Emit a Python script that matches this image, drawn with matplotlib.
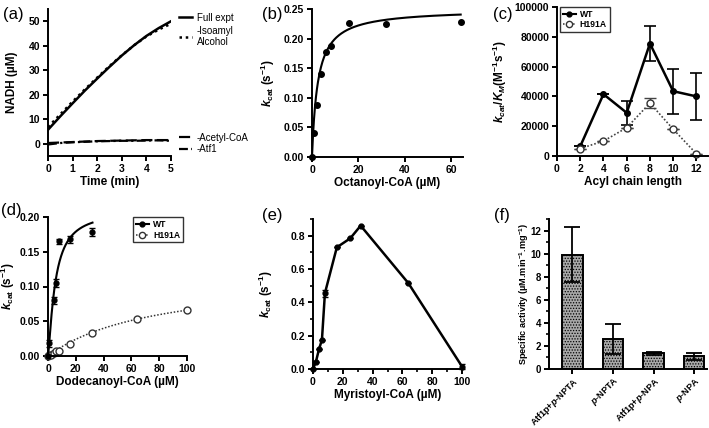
import numpy as np
import matplotlib
matplotlib.use("Agg")
import matplotlib.pyplot as plt
from matplotlib.ticker import MultipleLocator, FormatStrFormatter
from matplotlib.lines import Line2D

plt.rcParams['font.family'] = ['Liberation Sans', 'DejaVu Sans']
plt.rcParams['font.weight'] = 'bold'
plt.rcParams['axes.labelweight'] = 'bold'
plt.rcParams['mathtext.fontset'] = 'custom'
plt.rcParams['mathtext.rm'] = 'Liberation Sans:bold'
plt.rcParams['mathtext.bf'] = 'Liberation Sans:bold'
plt.rcParams['mathtext.it'] = 'Liberation Sans:italic:bold'
plt.rcParams['axes.linewidth'] = 1.4
plt.rcParams['xtick.major.width'] = 1.4
plt.rcParams['ytick.major.width'] = 1.4
plt.rcParams['xtick.minor.width'] = 1.2
plt.rcParams['ytick.minor.width'] = 1.2
plt.rcParams['xtick.major.size'] = 3.5
plt.rcParams['ytick.major.size'] = 3.5
plt.rcParams['xtick.minor.size'] = 2
plt.rcParams['ytick.minor.size'] = 2
plt.rcParams['xtick.labelsize'] = 7.5
plt.rcParams['ytick.labelsize'] = 7.5
plt.rcParams['axes.labelsize'] = 8.5
plt.rcParams['xtick.major.pad'] = 2
plt.rcParams['ytick.major.pad'] = 2
plt.rcParams['hatch.color'] = '#6e6e6e'
plt.rcParams['hatch.linewidth'] = 0.6

# ---------------- data ----------------
# (a) NADH time courses
time_min = [0, 0.5, 1, 1.5, 2, 2.5, 3, 3.5, 4, 4.5, 5]
nadh_full = [5.7, 11.2, 16.5, 21.7, 26.6, 31.4, 36.0, 40.2, 44.0, 47.2, 50.0]
nadh_no_isoamyl = [6.8, 12.0, 17.2, 22.2, 27.0, 31.7, 36.1, 40.2, 43.8, 46.6, 49.0]
nadh_no_acetylcoa = [0.3, 0.5, 0.7, 0.9, 1.1, 1.2, 1.3, 1.4, 1.5, 1.5, 1.5]
nadh_no_atf1 = [-0.3, 0.3, 0.6, 0.8, 1.0, 1.1, 1.2, 1.2, 1.3, 1.4, 1.2]

# (b) octanoyl-CoA
octanoyl_conc = [0, 1, 2, 4, 6, 8, 16, 32, 64]
octanoyl_kcat = [0.0, 0.04, 0.088, 0.14, 0.178, 0.188, 0.226, 0.225, 0.228]
octanoyl_vmax = 0.25
octanoyl_km = 2.5

# (c) kcat/KM vs acyl chain length
chain_length = [2, 4, 6, 8, 10, 12]
wt_kcat_km = [6500, 41500, 29000, 75500, 43500, 40000]
wt_kcat_km_err = [0, 0, 8000, 12000, 15000, 16000]
h191a_kcat_km = [5000, 10000, 19000, 35500, 18000, 1500]
h191a_kcat_km_err = [0, 0, 0, 3500, 0, 0]

# (d) dodecanoyl-CoA
dodec_wt_conc = [0, 1, 4, 6, 8, 16, 32]
dodec_wt_kcat = [0.0, 0.018, 0.080, 0.105, 0.165, 0.168, 0.178]
dodec_wt_err = [0.0, 0.005, 0.005, 0.006, 0.004, 0.005, 0.006]
dodec_wt_vmax, dodec_wt_k, dodec_wt_n = 0.21, 5.2, 1.3
dodec_mut_conc = [0, 1, 2, 4, 6, 8, 16, 32, 64, 100]
dodec_mut_kcat = [0.0, 0.001, 0.002, 0.004, 0.007, 0.007, 0.017, 0.033, 0.053, 0.066]
dodec_mut_vmax, dodec_mut_km = 0.117, 77.3

# (e) myristoyl-CoA
myr_conc = [0, 2, 4, 6, 8, 16, 25, 32, 64, 100]
myr_kcat = [0.0, 0.045, 0.118, 0.175, 0.455, 0.73, 0.784, 0.86, 0.515, 0.015]
myr_err = [0, 0, 0, 0, 0.02, 0, 0, 0, 0, 0.015]

# (f) specific activity
f_labels = ['Atf1p+$p$-NPTA', '$p$-NPTA', 'Atf1p+$p$-NPA', '$p$-NPA']
f_values = [9.9, 2.6, 1.35, 1.1]
f_errors = [2.38, 1.27, 0.12, 0.3]

# ---------------- layout ----------------
W, H = 709, 428
fig = plt.figure(figsize=(W / 100, H / 100), dpi=100)

def add_ax(l, r, top, bot):
    ax = fig.add_axes([l / W, 1 - bot / H, (r - l) / W, (bot - top) / H])
    for s in ['top', 'right']:
        ax.spines[s].set_visible(False)
    return ax

def ylab_at(ax, center_px, l, r, half=7):
    ax.yaxis.set_label_coords((center_px + half - l) / (r - l), 0.5)

kcat_label = r'$k_{\rm cat}$ (s$^{-1}$)'

# (a)
axa = add_ax(48, 171, 9, 156)
l1, = axa.plot(time_min, nadh_full, color='black', lw=1.8)
l2, = axa.plot(time_min, nadh_no_isoamyl, color='black', lw=1.8, ls=(0, (1, 1.5)))
l3, = axa.plot(time_min, nadh_no_acetylcoa, color='black', lw=1.6, ls=(0, (5, 2)))
l4, = axa.plot(time_min, nadh_no_atf1, color='black', lw=1.6, ls=(0, (4, 1.5, 1, 1.5)))
axa.set_xlim(0, 5)
axa.set_ylim(-5, 55)
axa.set_xticks([0, 1, 2, 3, 4, 5])
axa.set_yticks([0, 10, 20, 30, 40, 50])
axa.set_xlabel('Time (min)', labelpad=2)
axa.set_ylabel('NADH (µM)')
ylab_at(axa, 12, 48, 171, half=6)
leg1 = axa.legend([l1, l2], ['Full expt', '-Isoamyl\nAlcohol'], loc='upper left',
                  bbox_to_anchor=(1.03, 1.0), frameon=False, handlelength=1.4,
                  handletextpad=0.5, borderaxespad=0.0, labelspacing=0.3,
                  prop={'size': 7, 'weight': 'normal'})
axa.add_artist(leg1)
axa.legend([l3, l4], ['-Acetyl-CoA', '-Atf1'], loc='center left',
           bbox_to_anchor=(1.03, 0.085), frameon=False, handlelength=1.4,
           handletextpad=0.5, borderaxespad=0.0, labelspacing=0.2,
           prop={'size': 7, 'weight': 'normal'})

# (b)
axb = add_ax(312, 463, 9, 157)
xfit = np.linspace(0, 64, 300)
axb.plot(xfit, octanoyl_vmax * xfit / (octanoyl_km + xfit), color='black', lw=1.5)
axb.plot(octanoyl_conc, octanoyl_kcat, 'o', color='black', ms=4, clip_on=False)
axb.set_xlim(0, 65)
axb.set_ylim(0, 0.25)
axb.set_xticks([0, 20, 40, 60])
axb.set_yticks([0, 0.05, 0.10, 0.15, 0.20, 0.25])
axb.yaxis.set_major_formatter(FormatStrFormatter('%.2f'))
axb.set_xlabel('Octanoyl-CoA (µM)', labelpad=2)
axb.set_ylabel(kcat_label)
ylab_at(axb, 270, 312, 463)

# (c)
axc = add_ax(557, 708, 7, 156)
axc.errorbar(chain_length, wt_kcat_km, yerr=wt_kcat_km_err, color='black', lw=1.8,
             marker='o', ms=4, capsize=4, elinewidth=1.2, capthick=1.2, clip_on=False)
axc.errorbar(chain_length, h191a_kcat_km, yerr=h191a_kcat_km_err, color='#444444',
             lw=1.2, ls=(0, (1, 1.2)), marker='o', ms=5, mfc='white', mec='#333333',
             mew=1.0, capsize=4, elinewidth=1.0, capthick=1.0, clip_on=False)
axc.plot(chain_length, h191a_kcat_km, '.', color='#333333', ms=2.5, clip_on=False)
axc.set_xlim(0, 13)
axc.set_ylim(0, 100000)
axc.set_xticks([0, 2, 4, 6, 8, 10, 12])
axc.set_yticks([0, 20000, 40000, 60000, 80000, 100000])
axc.set_xlabel('Acyl chain length', labelpad=2)
axc.set_ylabel(r'$k_{cat}/K_{M}$(M$^{-1}$s$^{-1}$)')
ylab_at(axc, 502, 557, 708)
hc_wt = Line2D([], [], color='black', lw=1.5, marker='o', ms=3.5)
hc_mu = Line2D([], [], color='#333333', lw=1.1, ls=(0, (1, 1.2)), marker='o', ms=4.5,
               mfc='white', mec='#333333')
lgc = axc.legend([hc_wt, hc_mu], ['WT', 'H191A'], loc='upper left',
                 bbox_to_anchor=(0.02, 1.0), frameon=True,
                 fancybox=False, edgecolor='black', handlelength=1.5,
                 handletextpad=0.5, borderpad=0.3, labelspacing=0.2,
                 borderaxespad=0.0, prop={'size': 6.2, 'weight': 'bold'})
lgc.get_frame().set_linewidth(1.0)

# (d)
axd = add_ax(48, 187, 217, 356)
xw = np.linspace(0, 32, 300)
axd.plot(xw, dodec_wt_vmax * xw ** dodec_wt_n / (dodec_wt_k ** dodec_wt_n + xw ** dodec_wt_n),
         color='black', lw=1.5)
axd.errorbar(dodec_wt_conc, dodec_wt_kcat, yerr=dodec_wt_err, fmt='o', color='black',
             ms=3.5, capsize=2.5, elinewidth=1.0, capthick=1.0, clip_on=False)
xm = np.linspace(0, 100, 300)
axd.plot(xm, dodec_mut_vmax * xm / (dodec_mut_km + xm), color='#333333', lw=1.1,
         ls=(0, (1, 1.2)))
axd.plot(dodec_mut_conc, dodec_mut_kcat, 'o', ms=5, mfc='white', mec='#333333', mew=1.0,
         clip_on=False)
h_wt = Line2D([], [], color='black', lw=1.5, marker='o', ms=3.5)
h_mu = Line2D([], [], color='#333333', lw=1.1, ls=(0, (1, 1.2)), marker='o', ms=4.5,
              mfc='white', mec='#333333')
lgd = axd.legend([h_wt, h_mu], ['WT', 'H191A'], loc='upper right',
                 bbox_to_anchor=(0.97, 1.0), frameon=True, fancybox=False,
                 edgecolor='black', handlelength=1.5, handletextpad=0.5,
                 borderpad=0.3, labelspacing=0.25, borderaxespad=0.0,
                 prop={'size': 6.2, 'weight': 'bold'})
lgd.get_frame().set_linewidth(1.0)
axd.set_xlim(0, 100)
axd.set_ylim(0, 0.20)
axd.set_xticks([0, 20, 40, 60, 80, 100])
axd.set_yticks([0, 0.05, 0.10, 0.15, 0.20])
axd.yaxis.set_major_formatter(FormatStrFormatter('%.2f'))
axd.set_xlabel('Dodecanoyl-CoA (µM)', labelpad=2)
axd.set_ylabel(kcat_label)
ylab_at(axd, 10, 48, 187)

# (e)
axe = add_ax(313, 462, 219, 369)
axe.errorbar(myr_conc, myr_kcat, yerr=myr_err, color='black', lw=1.8, marker='o',
             ms=3.5, capsize=2.5, elinewidth=1.0, capthick=1.0, clip_on=False)
axe.set_xlim(0, 100)
axe.set_ylim(0, 0.9)
axe.set_xticks([0, 20, 40, 60, 80, 100])
axe.set_yticks([0, 0.2, 0.4, 0.6, 0.8])
axe.yaxis.set_minor_locator(MultipleLocator(0.1))
axe.xaxis.set_minor_locator(MultipleLocator(10))
axe.yaxis.set_major_formatter(FormatStrFormatter('%.1f'))
axe.set_xlabel('Myristoyl-CoA (µM)', labelpad=2)
axe.set_ylabel(kcat_label)
ylab_at(axe, 268, 313, 462)

# (f)
axf = add_ax(549, 707, 219, 369)
xpos = np.arange(len(f_values))
axf.bar(xpos, f_values, width=0.5, color='#a8a8a8', edgecolor='black', lw=1.4,
        hatch='......')
axf.errorbar(xpos, f_values, yerr=f_errors, fmt='none', ecolor='black', elinewidth=1.3,
             capsize=6, capthick=1.3)
axf.set_xlim(-0.58, 3.32)
axf.set_ylim(0, 13)
axf.set_yticks([0, 2, 4, 6, 8, 10, 12])
axf.yaxis.set_minor_locator(MultipleLocator(1))
axf.tick_params(axis='y', labelsize=7)
axf.set_xticks(xpos)
axf.set_xticklabels(f_labels, rotation=45, ha='right', rotation_mode='anchor', fontsize=6.5)
axf.tick_params(axis='x', pad=1)
axf.set_ylabel(r'Specific activity (µM.min$^{-1}$.mg$^{-1}$)', fontsize=6.6)
ylab_at(axf, 526, 549, 707, half=5)

# panel letters
for txt, x, y in [('(a)', 3, 14), ('(b)', 262, 14), ('(c)', 493, 14),
                  ('(d)', 1, 211), ('(e)', 262, 216), ('(f)', 494, 216)]:
    fig.text(x / W, 1 - y / H, txt, fontsize=12, fontweight='normal', va='center', ha='left')

fig.savefig('out.png', dpi=100)
